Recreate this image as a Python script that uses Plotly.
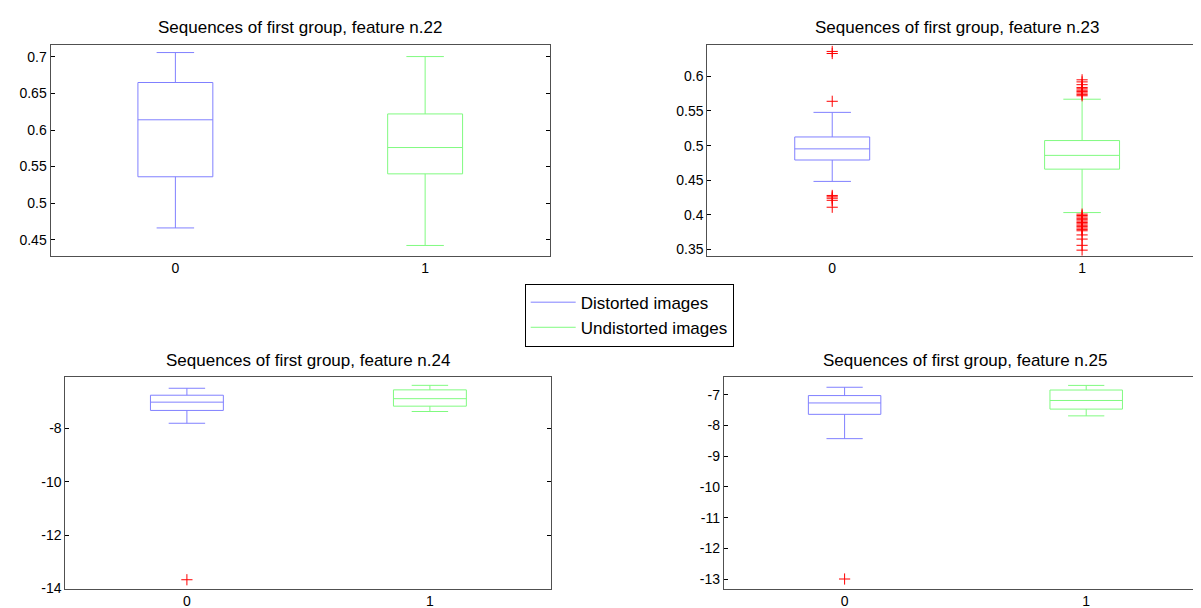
import plotly.graph_objects as go

W, H = 1201, 608

categories = ["0", "1"]
series_names = ["Distorted images", "Undistorted images"]
titles = [
    "Sequences of first group, feature n.22",
    "Sequences of first group, feature n.23",
    "Sequences of first group, feature n.24",
    "Sequences of first group, feature n.25",
]

# feature n.22  (index 0 = Distorted, index 1 = Undistorted)
f22_upper = [0.706, 0.7005]
f22_q3 = [0.665, 0.622]
f22_median = [0.614, 0.576]
f22_q1 = [0.536, 0.540]
f22_lower = [0.466, 0.442]
f22_out_dist = []
f22_out_undist = []
f22_ticks = [0.45, 0.5, 0.55, 0.6, 0.65, 0.7]
f22_ticktext = ["0.45", "0.5", "0.55", "0.6", "0.65", "0.7"]
f22_range = [0.428, 0.717]

# feature n.23
f23_upper = [0.548, 0.567]
f23_q3 = [0.5125, 0.5073]
f23_median = [0.4953, 0.4859]
f23_q1 = [0.4792, 0.466]
f23_lower = [0.4483, 0.4033]
f23_out_dist = [0.636, 0.633, 0.564, 0.428, 0.426, 0.424, 0.421, 0.411]
f23_out_undist = [0.595, 0.592, 0.588, 0.584, 0.582, 0.580, 0.578, 0.576, 0.574, 0.572,
                  0.401, 0.399, 0.397, 0.395, 0.393, 0.391, 0.389, 0.387, 0.385,
                  0.383, 0.381, 0.379, 0.377, 0.371, 0.365, 0.356, 0.349]
f23_ticks = [0.35, 0.4, 0.45, 0.5, 0.55, 0.6]
f23_ticktext = ["0.35", "0.4", "0.45", "0.5", "0.55", "0.6"]
f23_range = [0.341, 0.646]

# feature n.24
f24_upper = [-6.50, -6.39]
f24_q3 = [-6.76, -6.56]
f24_median = [-7.02, -6.89]
f24_q1 = [-7.33, -7.17]
f24_lower = [-7.81, -7.37]
f24_out_dist = [-13.67]
f24_out_undist = []
f24_ticks = [-14, -12, -10, -8]
f24_ticktext = ["-14", "-12", "-10", "-8"]
f24_range = [-14.0, -6.07]

# feature n.25
f25_upper = [-6.76, -6.70]
f25_q3 = [-7.03, -6.85]
f25_median = [-7.27, -7.19]
f25_q1 = [-7.64, -7.47]
f25_lower = [-8.43, -7.69]
f25_out_dist = [-12.99]
f25_out_undist = []
f25_ticks = [-13, -12, -11, -10, -9, -8, -7]
f25_ticktext = ["-13", "-12", "-11", "-10", "-9", "-8", "-7"]
f25_range = [-13.3, -6.42]

BLUE = "rgb(128,128,255)"
GREEN = "rgb(128,250,128)"
colors = [BLUE, GREEN]
AXIS_COLOR = "rgb(80,80,80)"
FONT = "Liberation Sans, Arial, sans-serif"

panels = [
    (f22_upper, f22_q3, f22_median, f22_q1, f22_lower, f22_out_dist, f22_out_undist,
     f22_ticks, f22_ticktext, f22_range),
    (f23_upper, f23_q3, f23_median, f23_q1, f23_lower, f23_out_dist, f23_out_undist,
     f23_ticks, f23_ticktext, f23_range),
    (f24_upper, f24_q3, f24_median, f24_q1, f24_lower, f24_out_dist, f24_out_undist,
     f24_ticks, f24_ticktext, f24_range),
    (f25_upper, f25_q3, f25_median, f25_q1, f25_lower, f25_out_dist, f25_out_undist,
     f25_ticks, f25_ticktext, f25_range),
]

# axes boxes in pixels: (left, right, top, bottom)
boxes_px = [
    (42.5, 542.0, 37.0, 251.0),
    (699.3, 1199.0, 37.0, 251.0),
    (57.4, 543.4, 373.7, 588.3),
    (715.8, 1199.0, 373.7, 588.3),
]
title_y_px = [20, 20, 357, 357]

fig = go.Figure()
layout = dict(
    width=W, height=H,
    margin=dict(l=0, r=0, t=0, b=0),
    paper_bgcolor="white", plot_bgcolor="white",
    showlegend=True,
    font=dict(family=FONT, size=14, color="black"),
    annotations=[],
    boxmode="overlay",
)

for i, (up, q3, med, q1, lo, od, ou, tv, tt, rng) in enumerate(panels):
    n = "" if i == 0 else str(i + 1)
    xa, ya = "x" + n, "y" + n
    outliers = [od, ou]
    for k in range(2):
        fig.add_trace(go.Box(
            x=[categories[k]], q1=[q1[k]], median=[med[k]], q3=[q3[k]],
            lowerfence=[lo[k]], upperfence=[up[k]],
            width=0.3, whiskerwidth=0.5,
            line=dict(color=colors[k], width=1),
            fillcolor="rgba(0,0,0,0)",
            boxpoints=False, showlegend=False, hoverinfo="skip",
            xaxis=xa, yaxis=ya,
        ))
        if outliers[k]:
            fig.add_trace(go.Scatter(
                x=[categories[k]] * len(outliers[k]), y=outliers[k],
                mode="markers",
                marker=dict(symbol="cross-thin", size=8,
                            line=dict(color="red", width=1)),
                showlegend=False, hoverinfo="skip",
                xaxis=xa, yaxis=ya,
            ))
    l, r, t, b = boxes_px[i]
    layout["xaxis" + n] = dict(
        domain=[l / W, r / W], anchor=ya, type="category",
        categoryorder="array", categoryarray=categories,
        range=[-0.5, 1.5], showline=True, mirror=True,
        linecolor=AXIS_COLOR, linewidth=1, ticks="", showgrid=False,
        zeroline=False, tickfont=dict(family=FONT, size=14, color="black"),
        fixedrange=True,
    )
    layout["yaxis" + n] = dict(
        domain=[1 - b / H, 1 - t / H], anchor=xa, range=rng,
        tickvals=tv, ticktext=tt, ticks="inside", ticklen=4,
        tickcolor="black", showline=True, mirror="ticks",
        linecolor=AXIS_COLOR, linewidth=1, showgrid=False, zeroline=False,
        tickfont=dict(family=FONT, size=14, color="black"),
        fixedrange=True,
    )
    layout["annotations"].append(dict(
        text=titles[i], xref="paper", yref="paper",
        x=(l + r) / 2 / W, y=1 - title_y_px[i] / H,
        xanchor="center", yanchor="middle", showarrow=False,
        font=dict(family=FONT, size=17, color="black"),
    ))

for k in range(2):
    fig.add_trace(go.Scatter(
        x=[None], y=[None], mode="lines", name=series_names[k],
        line=dict(color=colors[k], width=1), hoverinfo="skip",
    ))

layout["legend"] = dict(
    x=516.7 / W, y=1 - 279.3 / H, xanchor="left", yanchor="top",
    bordercolor="black", borderwidth=1, bgcolor="white",
    font=dict(family=FONT, size=17, color="black"),
    tracegroupgap=0, itemwidth=45,
)

fig.update_layout(**layout)
fig.write_html("out.html")
